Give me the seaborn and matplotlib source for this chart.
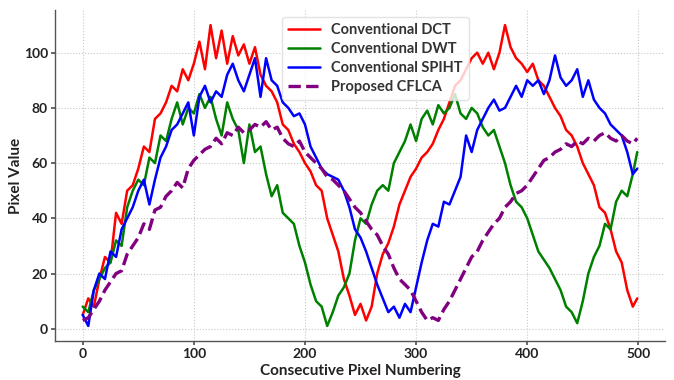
import matplotlib
matplotlib.use('Agg')
import matplotlib.pyplot as plt
import seaborn as sns
import pandas as pd

pixel_index = list(range(0, 500, 5)) + [499]

dct = [5, 11, 8, 18, 26, 24, 42, 38, 50, 52,
       58, 66, 64, 76, 78, 82, 88, 86, 94, 90,
       96, 104, 94, 110, 98, 108, 96, 106, 99, 103,
       96, 102, 92, 88, 86, 82, 74, 72, 67, 64,
       60, 57, 52, 50, 40, 34, 28, 18, 12, 5,
       9, 3, 8, 20, 27, 31, 37, 45, 50, 55,
       58, 62, 64, 67, 72, 76, 82, 88, 90, 94,
       98, 100, 96, 100, 94, 100, 110, 102, 98, 96,
       93, 96, 90, 88, 84, 80, 77, 72, 70, 66,
       60, 56, 52, 44, 42, 36, 28, 24, 14, 8,
       11]

dwt = [8, 6, 14, 18, 22, 24, 32, 30, 44, 50,
       54, 52, 62, 60, 70, 68, 76, 82, 74, 80,
       78, 85, 80, 84, 76, 70, 82, 76, 72, 60,
       74, 64, 66, 56, 48, 52, 42, 40, 38, 30,
       24, 16, 10, 8, 1, 6, 12, 15, 20, 32,
       40, 38, 45, 50, 52, 50, 60, 64, 68, 74,
       68, 76, 79, 74, 81, 78, 80, 85, 78, 76,
       80, 78, 73, 70, 72, 66, 60, 52, 46, 44,
       40, 34, 28, 25, 22, 18, 14, 8, 6, 2,
       10, 20, 26, 30, 38, 36, 46, 50, 48, 56,
       64]

spiht = [5, 1, 14, 20, 18, 28, 26, 36, 40, 44,
         50, 54, 45, 54, 62, 66, 72, 74, 78, 82,
         70, 84, 88, 82, 86, 84, 92, 96, 90, 86,
         92, 98, 84, 98, 90, 88, 82, 80, 77, 78,
         74, 66, 62, 58, 56, 55, 54, 50, 44, 36,
         33, 28, 22, 16, 11, 6, 8, 4, 9, 6,
         15, 24, 32, 38, 37, 46, 45, 50, 55, 70,
         64, 72, 76, 80, 83, 79, 80, 84, 88, 84,
         90, 88, 90, 85, 90, 99, 91, 88, 90, 94,
         84, 90, 83, 80, 78, 74, 72, 70, 64, 56,
         58]

cflca = [3, 4, 7, 10, 14, 17, 20, 21, 27, 30,
         33, 38, 36, 43, 44, 48, 50, 53, 51, 58,
         61, 63, 65, 66, 69, 67, 71, 70, 73, 71,
         72, 74, 73, 75, 72, 73, 69, 67, 66, 68,
         64, 62, 60, 58, 55, 54, 52, 50, 47, 44,
         42, 39, 36, 34, 30, 27, 22, 18, 16, 14,
         10, 6, 3, 4, 3, 7, 10, 14, 18, 22,
         26, 28, 32, 35, 38, 40, 44, 46, 49, 50,
         52, 55, 58, 61, 62, 64, 65, 67, 66, 68,
         67, 69, 68, 70, 71, 69, 68, 70, 68, 67,
         69]

series_names = ["Conventional DCT", "Conventional DWT", "Conventional SPIHT", "Proposed CFLCA"]
x_label = "Consecutive Pixel Numbering"
y_label = "Pixel Value"

sns.set_theme(style="ticks")
plt.rcParams['font.family'] = ['Lato', 'DejaVu Sans']
plt.rcParams['font.weight'] = 'bold'

fig = plt.figure(figsize=(6.74, 3.80), dpi=100)
ax = fig.add_axes([0.0816, 0.1026, 0.905, 0.871])

styles = [("red", "-", 1.8), ("green", "-", 1.8), ("blue", "-", 1.8), ("purple", "--", 2.4)]
for name, vals, (col, ls, lw) in zip(series_names, [dct, dwt, spiht, cflca], styles):
    sns.lineplot(x=pixel_index, y=vals, ax=ax, color=col, linestyle=ls,
                 linewidth=lw, label=name)

ax.grid(True, linestyle=':', color='#c8c8c8', linewidth=0.8)
for s in ['top', 'right']:
    ax.spines[s].set_visible(False)
for s in ['left', 'bottom']:
    ax.spines[s].set_color('#555555')
    ax.spines[s].set_linewidth(1.0)
ax.set_xticks([0, 100, 200, 300, 400, 500])
ax.set_yticks([0, 20, 40, 60, 80, 100])
ax.tick_params(axis='both', labelsize=10, length=3, color='#555555', pad=2)
for lab in ax.get_xticklabels() + ax.get_yticklabels():
    lab.set_fontweight('bold')
    lab.set_color('#222222')
ax.set_xlabel(x_label, fontsize=11, fontweight='bold', color='#222222')
ax.set_ylabel(y_label, fontsize=11, fontweight='bold', color='#222222')
ax.xaxis.set_label_coords(0.5, -0.07)
ax.yaxis.set_label_coords(-0.052, 0.5)

leg = ax.legend(loc='upper center', bbox_to_anchor=(0.525, 1.0), fontsize=10.5,
                frameon=True, handlelength=2.2, borderpad=0.4, labelspacing=0.35)
leg.get_frame().set_edgecolor('#dddddd')
for t in leg.get_texts():
    t.set_fontweight('bold')
    t.set_color('#333333')

fig.savefig("out.png", dpi=100)
